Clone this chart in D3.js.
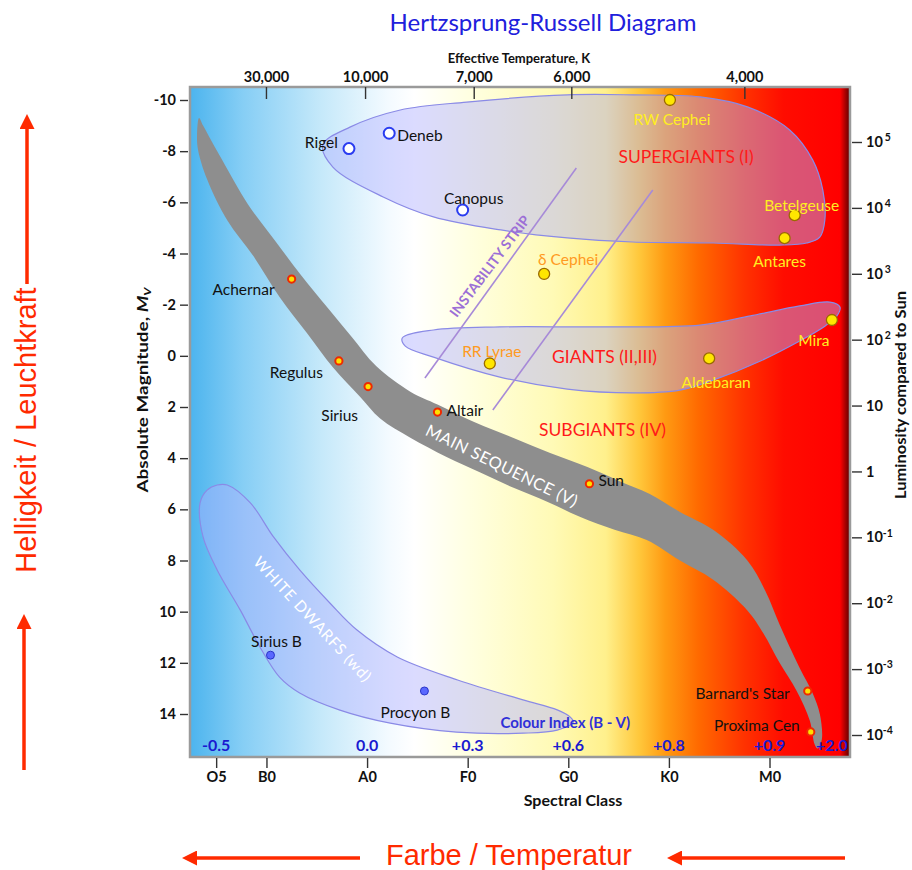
<!DOCTYPE html>
<html>
<head>
<meta charset="utf-8">
<script src="https://cdn.jsdelivr.net/npm/d3@7"></script>
<style>
  body { margin: 0; background: #fff; }
  svg text { font-family: Lato, "Open Sans", sans-serif; }
</style>
</head>
<body>
<div id="chart"></div>
<script>
// ---- data ----
// x is a continuous spectral index: O0=0, B0=10, A0=20, F0=30, G0=40, K0=50, M0=60
const spectralClasses = ["O5", "B0", "A0", "F0", "G0", "K0", "M0"];
const spectralValues = [5, 10, 20, 30, 40, 50, 60];

const colourIndexLabels = ["-0.5", "0.0", "+0.3", "+0.6", "+0.8", "+0.9", "+2.0"];
const colourIndexSpec = [5, 20, 30, 40, 50, 60, 66.2];

const tempTicks = [30000, 10000, 7000, 6000, 4000];
const tempSpec = [9.95, 19.8, 30.6, 40.3, 57.5];

const magTicks = [-10, -8, -6, -4, -2, 0, 2, 4, 6, 8, 10, 12, 14];
const lumTicks = [1e5, 1e4, 1e3, 1e2, 10, 1, 1e-1, 1e-2, 1e-3, 1e-4];

const starNames = ["Rigel", "Deneb", "Canopus", "RW Cephei", "Betelgeuse", "Antares", "δ Cephei",
  "Achernar", "Mira", "RR Lyrae", "Aldebaran", "Regulus", "Sirius", "Altair", "Sun",
  "Sirius B", "Procyon B", "Barnard's Star", "Proxima Cen"];
const starSpec = [18.2, 22.2, 29.5, 50.1, 62.5, 61.5, 37.6, 12.5, 66.2, 32.2, 54.0, 17.2, 20.1, 27.0, 42.1, 10.4, 25.7, 63.8, 64.1];
const starMag = [-8.1, -8.7, -5.7, -10.0, -5.5, -4.6, -3.2, -3.0, -1.4, 0.3, 0.1, 0.2, 1.2, 2.2, 5.0, 11.7, 13.1, 13.1, 14.7];
const starType = ["open", "open", "open", "giant", "giant", "giant", "giant", "ms", "giant", "giant", "giant",
  "ms", "ms", "ms", "ms", "wd", "wd", "ms", "ms"];

// region outlines as [spectral, magnitude]
const msUpper = [[3.3,-9.3],[3.7,-9.0],[5.6,-7.65],[8.2,-5.9],[10.8,-4.53],[13.5,-3.12],[16.1,-1.87],[18.5,-0.73],
  [20.9,0.4],[24.3,1.4],[27.0,1.9],[30.7,2.6],[34.5,3.2],[38.2,3.8],[41.9,4.35],[45.1,4.9],[48.1,5.4],
  [51.1,6.1],[54.4,6.8],[57.8,8.0],[59.6,9.2],[61.0,10.5],[63.0,12.2],[64.3,13.2],[65.0,14.0],[65.2,15.0],[64.8,15.35]];
const msLower = [[3.1,-8.6],[3.2,-8.05],[4.1,-6.9],[6.1,-5.3],[8.7,-3.9],[11.3,-2.3],[14.0,-0.9],[16.6,0.45],
  [19.3,1.6],[21.3,2.45],[24.3,3.2],[27.9,3.95],[31.2,4.55],[34.5,5.15],[37.9,5.7],[41.2,6.3],[44.6,6.8],
  [47.8,7.2],[51.1,8.0],[54.4,8.75],[57.8,9.95],[59.4,10.85],[61.0,12.0],[62.7,13.1],[64.0,14.25],[64.5,15.2]];
const supergiantOutline = [[15.6,-8.24],[18.3,-8.94],[23.3,-9.61],[29.9,-9.92],[39.9,-10.2],[46.4,-10.2],
  [53.1,-10.12],[57.8,-9.73],[62.0,-8.83],[64.3,-7.65],[65.3,-6.48],[65.5,-5.31],[65.0,-4.64],[63.7,-4.41],
  [61.0,-4.33],[54.4,-4.41],[46.4,-4.45],[39.9,-4.61],[33.3,-4.92],[26.6,-5.43],[21.6,-6.21],[16.6,-7.38]];
const giantOutline = [[23.5,-0.7],[26.6,-1.01],[33.2,-1.13],[43.2,-1.13],[53.1,-1.2],[58.1,-1.56],[63.0,-1.95],
  [66.0,-2.1],[67.0,-1.91],[66.7,-1.56],[65.5,-1.16],[63.0,-0.58],[59.1,0.2],[54.4,0.95],[51.1,1.34],
  [46.4,1.45],[39.9,1.3],[33.2,0.83],[26.6,0.05],[23.8,-0.38]];
const whiteDwarfOutline = [[5.1,5.05],[6.1,5.05],[8.4,5.75],[10.7,7.08],[13.3,8.37],[16.3,9.66],[19.0,10.72],
  [23.0,11.77],[29.0,12.67],[35.5,13.45],[38.9,13.84],[40.2,14.12],[40.5,14.32],[38.9,14.63],[35.5,14.75],
  [28.9,14.71],[22.3,14.36],[17.3,13.85],[13.3,13.18],[11.3,12.56],[9.35,11.38],[7.4,9.94],[5.1,8.37],
  [3.7,7.08],[3.4,5.75],[4.1,5.25]];
const instabilityLines = [[[40.8,-7.34],[25.75,0.87]], [[48.4,-6.48],[32.5,2.12]]];

// ---- layout / style ----
const W = 912, H = 870;
const plot = { left: 190, right: 850, top: 87, bottom: 757 };

const labelPlace = {
  "Rigel": ["end", -11, -6, "#111"], "Deneb": ["start", 8, 2, "#111"], "Canopus": ["middle", 11, -11, "#111"],
  "RW Cephei": ["middle", 2, 20, "#ffee22"], "Betelgeuse": ["middle", 7, -10, "#ffee22"],
  "Antares": ["middle", -5, 23, "#ffee22"], "δ Cephei": ["middle", 24, -14, "#ff9a22"],
  "Achernar": ["end", -17, 10, "#111"], "Mira": ["middle", -18, 21, "#ffee22"],
  "RR Lyrae": ["middle", 2, -12, "#ff9a22"], "Aldebaran": ["middle", 7, 24, "#ffee22"],
  "Regulus": ["end", -16, 12, "#111"], "Sirius": ["end", -10, 29, "#111"], "Altair": ["start", 9, -2, "#111"],
  "Sun": ["start", 9, -3, "#111"], "Sirius B": ["middle", 6, -14, "#111"], "Procyon B": ["middle", -9, 22, "#111"],
  "Barnard's Star": ["end", -18, 3, "#111"], "Proxima Cen": ["end", -11, -6, "#111"]
};

const svg = d3.select("#chart").append("svg").attr("width", W).attr("height", H);

const x = d3.scaleLinear().domain([2.4, 68]).range([plot.left, plot.right]);
const y = d3.scaleLinear().domain([-10, 14]).range([100, 714]);
const yLum = d3.scaleLog().domain([1e5, 1e-4]).range([142, 735]);
const xTemp = d3.scaleLinear().domain(tempTicks).range(tempSpec.map(x));

const defs = svg.append("defs");
const grad = defs.append("linearGradient").attr("id", "bg")
  .attr("gradientUnits", "userSpaceOnUse")
  .attr("x1", plot.left).attr("x2", plot.right).attr("y1", 0).attr("y2", 0);
[[0, "#4cb4ee"], [0.08, "#86cef5"], [0.2, "#c6e9fa"], [0.3, "#f3faff"], [0.34, "#ffffff"],
 [0.42, "#ffffe2"], [0.55, "#fffab6"], [0.63, "#fff08c"], [0.68, "#ffc83c"], [0.72, "#ff9a12"],
 [0.77, "#ff6a00"], [0.84, "#ff3200"], [0.9, "#ff0c00"], [0.985, "#ff0000"], [1, "#5a0000"]]
  .forEach(s => grad.append("stop").attr("offset", s[0]).attr("stop-color", s[1]));

defs.append("clipPath").attr("id", "clip").append("rect")
  .attr("x", plot.left).attr("y", plot.top)
  .attr("width", plot.right - plot.left).attr("height", plot.bottom - plot.top);

defs.append("marker").attr("id", "arrow")
  .attr("viewBox", "0 0 10 10").attr("refX", 2).attr("refY", 5)
  .attr("markerWidth", 15).attr("markerHeight", 15).attr("markerUnits", "userSpaceOnUse")
  .attr("orient", "auto")
  .append("path").attr("d", "M0,0 L10,5 L0,10 Z").attr("fill", "#ff2a00");

// background
svg.append("rect")
  .attr("x", plot.left).attr("y", plot.top)
  .attr("width", plot.right - plot.left).attr("height", plot.bottom - plot.top)
  .attr("fill", "url(#bg)");

const area = svg.append("g").attr("clip-path", "url(#clip)");
const outline = d3.line().x(d => x(d[0])).y(d => y(d[1])).curve(d3.curveCatmullRomClosed.alpha(0.5));

// main sequence band
area.append("path")
  .attr("d", outline(msUpper.concat(msLower.slice().reverse())))
  .attr("fill", "#8e8e8e");

// region blobs
[supergiantOutline, giantOutline, whiteDwarfOutline].forEach(o => {
  area.append("path").attr("d", outline(o))
    .attr("fill", "#b0b0ff").attr("fill-opacity", 0.45)
    .attr("stroke", "#8a8ae6").attr("stroke-width", 1.2);
});

// instability strip
area.selectAll(".istrip").data(instabilityLines).join("line")
  .attr("x1", d => x(d[0][0])).attr("y1", d => y(d[0][1]))
  .attr("x2", d => x(d[1][0])).attr("y2", d => y(d[1][1]))
  .attr("stroke", "#a78ad8").attr("stroke-width", 1.6);

// region texts
function rotText(txt, s, m, angle, fill, size, weight) {
  return area.append("text")
    .attr("transform", `translate(${x(s)},${y(m)}) rotate(${angle})`)
    .attr("text-anchor", "middle").attr("dy", "0.35em")
    .attr("fill", fill).attr("font-size", size).attr("font-weight", weight || "normal")
    .text(txt);
}
rotText("INSTABILITY STRIP", 32.2, -3.5, -53, "#9c6fd6", 14, "bold");
rotText("MAIN SEQUENCE (V)", 33.4, 4.3, 26, "#ffffff", 16.5, "normal").attr("letter-spacing", 0.5);
rotText("WHITE DWARFS (wd)", 14.6, 10.3, 47, "#ffffff", 15.5, "normal").attr("letter-spacing", 0.8);
rotText("SUPERGIANTS (I)", 51.7, -7.77, 0, "#ff1a1a", 17.5, "normal");
rotText("GIANTS (II,III)", 43.6, 0.05, 0, "#ff1a1a", 17.5, "normal");
rotText("SUBGIANTS (IV)", 43.4, 2.9, 0, "#ff1a1a", 17.5, "normal");

// stars
const stars = starNames.map((n, i) => ({ name: n, s: starSpec[i], m: starMag[i], type: starType[i] }));
const dotStyle = {
  open: { r: 5.5, fill: "#ffffff", stroke: "#2a3cf0", sw: 2 },
  giant: { r: 5.5, fill: "#ffe600", stroke: "#9a6a00", sw: 1.3 },
  ms: { r: 3.6, fill: "#ffe000", stroke: "#ee2a00", sw: 2 },
  wd: { r: 4, fill: "#5a68ff", stroke: "#2a36c8", sw: 1 }
};
area.selectAll(".star").data(stars).join("circle")
  .attr("cx", d => x(d.s)).attr("cy", d => y(d.m))
  .attr("r", d => dotStyle[d.type].r)
  .attr("fill", d => dotStyle[d.type].fill)
  .attr("stroke", d => dotStyle[d.type].stroke)
  .attr("stroke-width", d => dotStyle[d.type].sw);

svg.selectAll(".slabel").data(stars).join("text")
  .attr("x", d => x(d.s) + labelPlace[d.name][1])
  .attr("y", d => y(d.m) + labelPlace[d.name][2])
  .attr("dy", "0.35em")
  .attr("text-anchor", d => labelPlace[d.name][0])
  .attr("fill", d => labelPlace[d.name][3])
  .attr("font-size", 15.5)
  .text(d => d.name);

// colour index
svg.selectAll(".ci").data(colourIndexLabels).join("text")
  .attr("x", (d, i) => x(colourIndexSpec[i])).attr("y", 751)
  .attr("text-anchor", "middle").attr("fill", "#1a1ad0")
  .attr("font-size", 16).attr("font-weight", "bold")
  .text(d => d);
svg.append("text").attr("x", x(39.7)).attr("y", 728).attr("text-anchor", "middle")
  .attr("fill", "#3030d8").attr("font-size", 15).attr("font-weight", "bold")
  .text("Colour Index (B - V)");

// frame
svg.append("rect")
  .attr("x", plot.left).attr("y", plot.top)
  .attr("width", plot.right - plot.left).attr("height", plot.bottom - plot.top)
  .attr("fill", "none").attr("stroke", "#9a9a9a").attr("stroke-width", 2.5);

// axes
function styleAxis(g) {
  g.select(".domain").remove();
  g.selectAll(".tick line").attr("stroke", "#333").attr("stroke-width", 1.4);
  g.selectAll(".tick text").attr("fill", "#111").attr("font-size", 14.5).attr("font-weight", "bold")
    .style("font-family", "Lato, sans-serif");
}

svg.append("g").attr("transform", `translate(${plot.left - 2},0)`)
  .call(d3.axisLeft(y).tickValues(magTicks).tickSize(8).tickPadding(4)
    .tickFormat(d => d < 0 ? "-" + Math.abs(d) : d))
  .call(styleAxis);

const rAxis = svg.append("g").attr("transform", `translate(${plot.right + 2},0)`)
  .call(d3.axisRight(yLum).tickValues(lumTicks).tickSize(10).tickPadding(4))
  .call(styleAxis);
rAxis.selectAll(".tick text").each(function (d) {
  const e = Math.round(Math.log10(d));
  const t = d3.select(this).text("");
  if (e === 1) t.text("10");
  else if (e === 0) t.text("1");
  else {
    t.append("tspan").text("10");
    t.append("tspan").attr("dy", "-0.55em").attr("dx", e > 0 ? 2 : 0).attr("font-size", 10.5).text(e);
  }
});

svg.append("g").attr("transform", `translate(0,${plot.top})`)
  .call(d3.axisTop(xTemp).tickValues(tempTicks).tickSize(-12).tickPadding(5)
    .tickFormat(d3.format(",")))
  .call(styleAxis);

svg.append("g").attr("transform", `translate(0,${plot.bottom + 1})`)
  .call(d3.axisBottom(x).tickValues(spectralValues).tickSize(10).tickPadding(4)
    .tickFormat((d, i) => spectralClasses[i]))
  .call(styleAxis);

// titles
svg.append("text").attr("x", 543).attr("y", 31).attr("text-anchor", "middle")
  .attr("fill", "#2020dc").attr("font-size", 24).text("Hertzsprung-Russell Diagram");
svg.append("text").attr("x", 519).attr("y", 63).attr("text-anchor", "middle")
  .attr("fill", "#111").attr("font-size", 13).attr("font-weight", "bold").text("Effective Temperature, K");
svg.append("text").attr("x", 573).attr("y", 806).attr("text-anchor", "middle")
  .attr("fill", "#111").attr("font-size", 16).attr("font-weight", "bold").text("Spectral Class");

const yt = svg.append("text").attr("transform", "translate(148,390) rotate(-90)")
  .attr("text-anchor", "middle").attr("fill", "#111").attr("font-size", 15).attr("font-weight", "bold")
  .attr("textLength", 205).attr("lengthAdjust", "spacingAndGlyphs");
yt.append("tspan").text("Absolute Magnitude, ");
yt.append("tspan").attr("font-style", "italic").text("M");
yt.append("tspan").attr("font-style", "italic").attr("font-size", 10).attr("dy", "0.3em").text("V");

svg.append("text").attr("transform", "translate(906,395) rotate(-90)")
  .attr("text-anchor", "middle").attr("fill", "#111").attr("font-size", 15).attr("font-weight", "bold")
  .attr("textLength", 208).attr("lengthAdjust", "spacingAndGlyphs")
  .text("Luminosity compared to Sun");

// red annotations
svg.append("text").attr("transform", "translate(36,430) rotate(-90)")
  .attr("text-anchor", "middle").attr("fill", "#ff2a00").attr("font-size", 29)
  .style("font-family", "'Liberation Sans', Arial, sans-serif")
  .text("Helligkeit / Leuchtkraft");
svg.append("text").attr("x", 509).attr("y", 865).attr("text-anchor", "middle")
  .attr("fill", "#ff2a00").attr("font-size", 29)
  .style("font-family", "'Liberation Sans', Arial, sans-serif")
  .text("Farbe / Temperatur");

const arrows = [[27, 284, 27, 126], [24, 770, 24, 626], [360, 858, 194, 858], [845, 858, 679, 858]];
svg.selectAll(".arr").data(arrows).join("line")
  .attr("x1", d => d[0]).attr("y1", d => d[1]).attr("x2", d => d[2]).attr("y2", d => d[3])
  .attr("stroke", "#ff2a00").attr("stroke-width", 3.5)
  .attr("marker-end", "url(#arrow)");
</script>
</body>
</html>
